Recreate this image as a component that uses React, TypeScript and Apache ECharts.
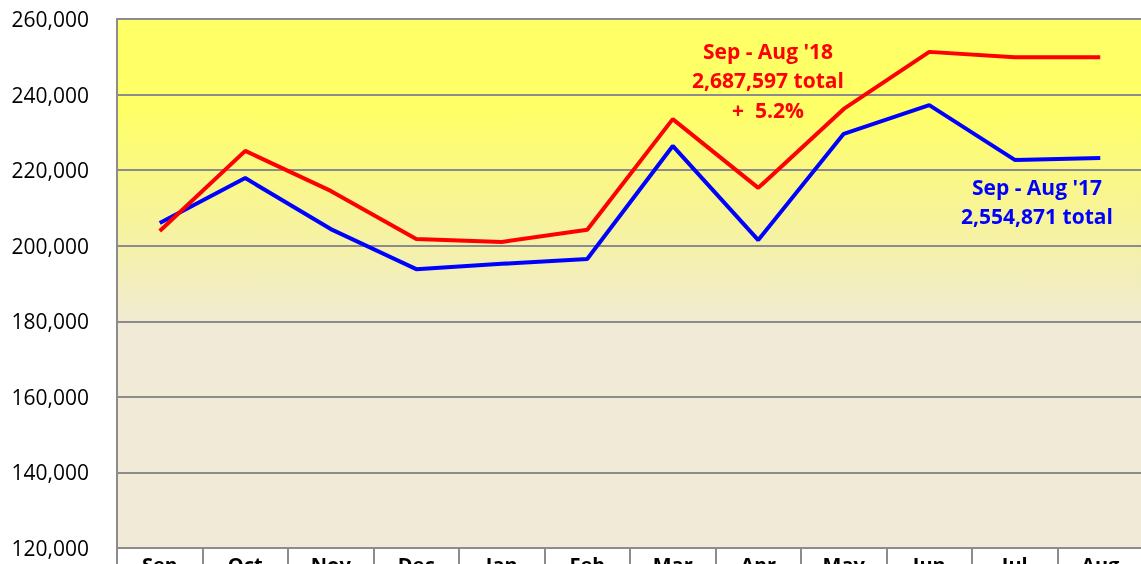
import React, { useEffect, useRef } from "react";
import * as echarts from "echarts";

const months = ["Sep", "Oct", "Nov", "Dec", "Jan", "Feb", "Mar", "Apr", "May", "Jun", "Jul", "Aug"];
const fy18 = [203900, 225100, 214500, 201800, 201000, 204200, 233500, 215300, 236200, 251300, 249900, 249900];
const fy17 = [206000, 217900, 204400, 193800, 195200, 196500, 226400, 201500, 229600, 237200, 222700, 223200];
const redNote = ["Sep - Aug '18", "2,687,597 total", "+  5.2%"];
const blueNote = ["Sep - Aug '17", "2,554,871 total"];

const FONT = "'Open Sans', 'DejaVu Sans', sans-serif";
const GRAY = "#8c8c8c";

export default function App() {
  const ref = useRef<HTMLDivElement>(null);
  useEffect(() => {
    if (!ref.current) return;
    const chart = echarts.init(ref.current, null, { renderer: "svg" });
    const noteText = (lines: string[], color: string, cx: number, ys: number[]) =>
      lines.map((t, i) => ({
        type: "text",
        x: cx,
        y: ys[i],
        z: 100,
        style: {
          text: t,
          fill: color,
          font: `bold 21px ${FONT}`,
          textAlign: "center",
          textVerticalAlign: "middle",
        },
      }));
    chart.setOption({
      animation: false,
      grid: {
        left: 117,
        right: -2,
        top: 19,
        bottom: 16,
        containLabel: false,
        outerBoundsMode: "none",
        show: true,
        borderColor: GRAY,
        borderWidth: 2,
        backgroundColor: {
          type: "linear",
          x: 0,
          y: 0,
          x2: 0,
          y2: 1,
          colorStops: [
            { offset: 0, color: "#FFFF66" },
            { offset: 0.17, color: "#FFFF66" },
            { offset: 0.32, color: "#F9F68C" },
            { offset: 0.45, color: "#F4F0AE" },
            { offset: 0.58, color: "#F0EAD6" },
            { offset: 1, color: "#F0EAD6" },
          ],
        },
      },
      xAxis: {
        type: "category",
        data: months,
        boundaryGap: true,
        axisLine: { lineStyle: { color: GRAY, width: 2 } },
        axisTick: { show: true, interval: 0, length: 20, lineStyle: { color: GRAY, width: 2 } },
        axisLabel: { interval: 0, margin: 6, color: "#000", fontSize: 20, fontWeight: "bold", fontFamily: FONT },
      },
      yAxis: {
        type: "value",
        min: 120000,
        max: 260000,
        interval: 20000,
        axisLine: { show: true, lineStyle: { color: GRAY, width: 2 } },
        axisTick: { show: false },
        splitLine: { lineStyle: { color: GRAY, width: 2 } },
        axisLabel: {
          color: "#000",
          fontSize: 21,
          fontFamily: FONT,
          margin: 28,
          formatter: (v: number) => v.toLocaleString("en-US"),
        },
      },
      series: [
        {
          type: "line",
          data: fy17,
          symbol: "none",
          lineStyle: { color: "#0000FF", width: 4 },
          z: 3,
        },
        {
          type: "line",
          data: fy18,
          symbol: "none",
          lineStyle: { color: "#FF0000", width: 4 },
          z: 4,
        },
      ],
      graphic: [
        ...noteText(redNote, "#FF0000", 768, [51, 80, 110]),
        ...noteText(blueNote, "#0000FF", 1037, [187, 216]),
      ],
    });
    return () => chart.dispose();
  }, []);
  return (
    <div
      ref={ref}
      style={{ position: "fixed", left: 0, top: 0, width: 1141, height: 564 }}
    />
  );
}
